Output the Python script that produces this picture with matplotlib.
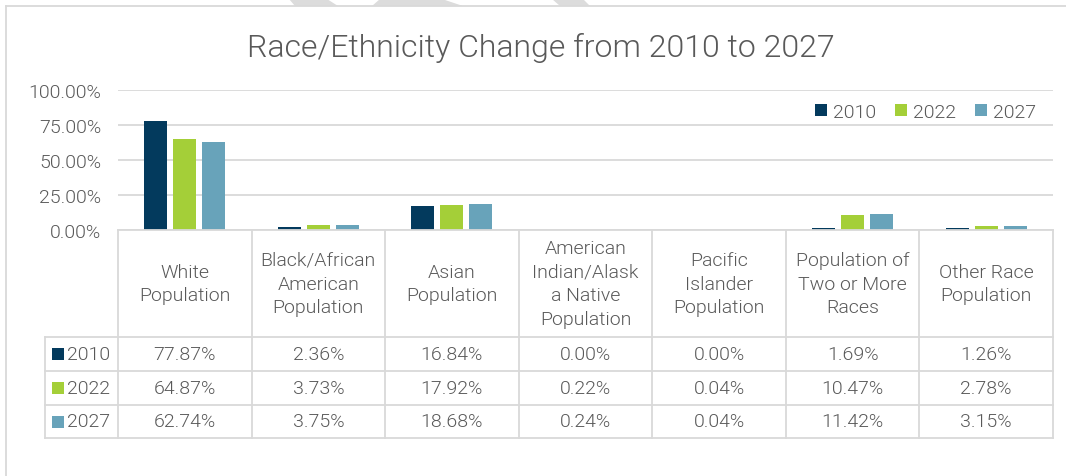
import matplotlib
matplotlib.use("Agg")
import matplotlib.pyplot as plt
from matplotlib import font_manager as fm
from matplotlib.patches import Polygon

# ---------------- data ----------------
categories = ["White\nPopulation", "Black/African\nAmerican\nPopulation", "Asian\nPopulation",
              "American\nIndian/Alask\na Native\nPopulation", "Pacific\nIslander\nPopulation",
              "Population of\nTwo or More\nRaces", "Other Race\nPopulation"]
series_names = ["2010", "2022", "2027"]
vals_2010 = [77.87, 2.36, 16.84, 0.00, 0.00, 1.69, 1.26]
vals_2022 = [64.87, 3.73, 17.92, 0.22, 0.04, 10.47, 2.78]
vals_2027 = [62.74, 3.75, 18.68, 0.24, 0.04, 11.42, 3.15]
yticks = [0, 25, 50, 75, 100]
title = "Race/Ethnicity Change from 2010 to 2027"

colors = ["#033a5d", "#a4cf38", "#68a3ba"]
TXT = "#595959"
GRID = "#d9d9d9"
FS = 14

# ---------------- font ----------------
family = "DejaVu Sans"
weight = "normal"
for cand in ["Roboto", "Lato", "Open Sans", "Inter", "Liberation Sans"]:
    ws = [f.weight for f in fm.fontManager.ttflist if f.name == cand and f.style == "normal"]
    if ws:
        family = cand
        ws_num = []
        for w in ws:
            try:
                ws_num.append(int(w))
            except Exception:
                ws_num.append({"light": 300, "normal": 400, "regular": 400}.get(str(w), 400))
        if 300 in ws_num:
            weight = 300
        break
plt.rcParams["font.family"] = [family, "DejaVu Sans"]
plt.rcParams["font.weight"] = weight

W, H = 1066, 477
fig = plt.figure(figsize=(W / 100, H / 100), dpi=100)

def fx(px):
    return px / W

def fy(py):
    return 1 - py / H

# outer chart border (top and left only visible)
fig.add_artist(plt.Line2D([fx(6), fx(6)], [fy(7), fy(477)], color=GRID, lw=1.3))
fig.add_artist(plt.Line2D([fx(6), fx(1066)], [fy(7), fy(7)], color=GRID, lw=1.3))
# decorative watermark shapes above the chart
for poly in [[(289, 0), (327, 0), (338, 7), (295, 7)],
             [(380, 0), (442, 0), (463, 7), (372, 7)],
             [(552, 0), (583, 0), (590, 7), (560, 7)]]:
    fig.add_artist(Polygon([(fx(a), fy(b)) for a, b in poly], closed=True,
                           facecolor="#dcdcdc", edgecolor="none", transform=fig.transFigure))

fig.text(fx(541), fy(57), title, ha="center", va="baseline", fontsize=23, color=TXT)

# ---------------- bar axes ----------------
L, R, T, B = 118, 1053, 91, 231
ax = fig.add_axes([fx(L), fy(B), fx(R) - fx(L), (B - T) / H])
n = len(categories)
x = list(range(n))
bw = 0.172
step = 0.217
bars = []
for k, (vals, c) in enumerate(zip([vals_2010, vals_2022, vals_2027], colors)):
    b = ax.bar([xi + (k - 1) * step for xi in x], vals, width=bw, color=c,
               label=series_names[k], zorder=3)
    bars.append(b)
ax.set_xlim(-0.5, n - 0.5)
ax.set_ylim(0, 100)
ax.set_yticks(yticks)
ax.set_yticklabels([f"{v:.2f}%" for v in yticks], fontsize=FS, color=TXT)
ax.tick_params(axis="y", length=0, pad=12)
ax.set_xticks([])
for s in ax.spines.values():
    s.set_visible(False)
ax.grid(axis="y", color=GRID, lw=1.3, zorder=0)
ax.set_axisbelow(True)

leg = fig.legend(handles=bars, labels=series_names, loc="center right",
                 bbox_to_anchor=(fx(1036), fy(113)), ncol=3, frameon=False,
                 fontsize=FS, handlelength=0.6, handleheight=0.6,
                 handletextpad=0.3, columnspacing=1.0, borderpad=0, borderaxespad=0)
for t in leg.get_texts():
    t.set_color(TXT)

# ---------------- data table ----------------
TB = 439
tax = fig.add_axes([fx(L), fy(TB), fx(R) - fx(L), (TB - B) / H])
tax.set_xlim(-0.5, n - 0.5)
tax.set_ylim(TB, B)
tax.axis("off")
colw = (R - L) / n

def px2x(px):
    return -0.5 + (px - L) / colw

row_edges = [B, 338, 372, 406, TB]
lx = px2x(45)
lw = 1.3
tax.plot([-0.5, n - 0.5], [B, B], color=GRID, lw=lw, clip_on=False, zorder=2)
for yy in row_edges[1:]:
    tax.plot([lx, n - 0.5], [yy, yy], color=GRID, lw=lw, clip_on=False)
for i in range(n + 1):
    tax.plot([-0.5 + i, -0.5 + i], [B, TB], color=GRID, lw=lw, clip_on=False)
tax.plot([lx, lx], [row_edges[1], TB], color=GRID, lw=lw, clip_on=False)

hc = (row_edges[0] + row_edges[1]) / 2
for i, cat in enumerate(categories):
    tax.text(i, hc, cat, ha="center", va="center", fontsize=FS, color=TXT,
             linespacing=1.4, clip_on=False)

for r, (vals, name, c) in enumerate(zip([vals_2010, vals_2022, vals_2027], series_names, colors)):
    yc = (row_edges[r + 1] + row_edges[r + 2]) / 2
    tax.plot([px2x(58)], [yc], marker="s", markersize=8, color=c, clip_on=False,
             markeredgewidth=0)
    tax.text(px2x(67), yc, name, ha="left", va="center", fontsize=FS, color=TXT,
             clip_on=False)
    for i, v in enumerate(vals):
        tax.text(i, yc, f"{v:.2f}%", ha="center", va="center", fontsize=FS,
                 color=TXT, clip_on=False)

fig.savefig("out.png", dpi=100)
